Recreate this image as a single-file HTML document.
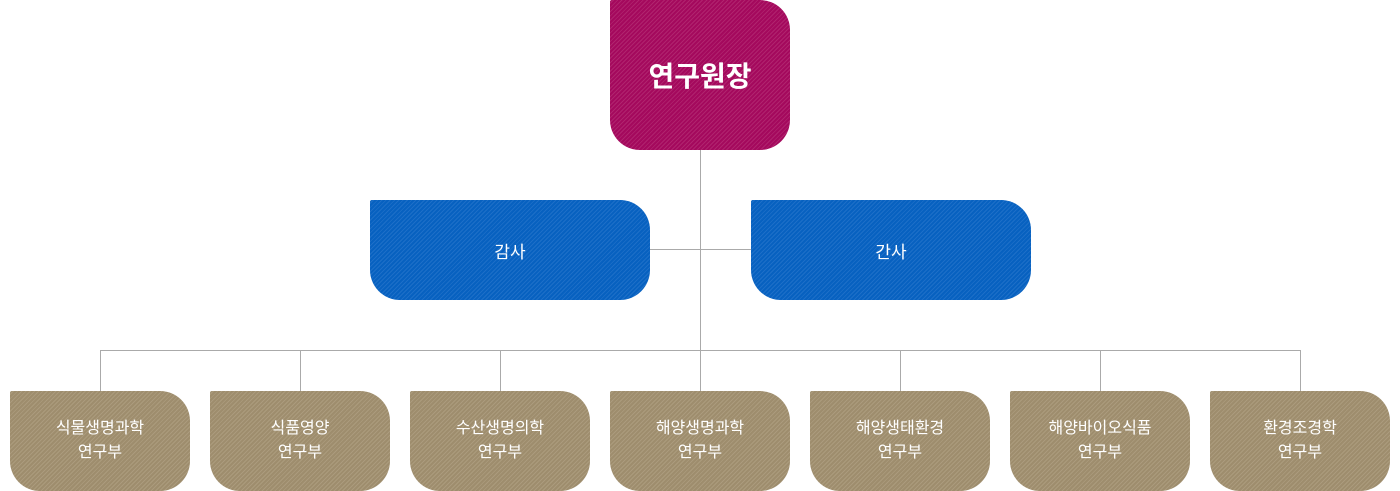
<!DOCTYPE html>
<html><head><meta charset="utf-8"><style>
body{margin:0;width:1400px;height:491px;background:#fff;position:relative;overflow:hidden;font-family:"Liberation Sans","Noto Sans CJK KR","NanumGothic",sans-serif}
.b{position:absolute;color:#fff;display:flex;align-items:center;justify-content:center;text-align:center;border-radius:2px 30px 30px 30px}
.top{left:610px;top:0;width:180px;height:150px;font-size:28px;font-weight:bold;background:repeating-linear-gradient(135deg,#a4095d 0 2px,#b0246e 2px 3px)}
.blue{top:200px;width:280px;height:100px;font-size:17px;background:repeating-linear-gradient(135deg,#0761c0 0 2px,#1d6fc8 2px 3px)}
.tan{top:391px;width:180px;height:100px;font-size:16px;line-height:24px;background:repeating-linear-gradient(135deg,#9e8d6d 0 2px,#ab9b7d 2px 3px)}
.l{position:absolute;background:#aaa}
</style></head><body>
<div class="l" style="left:700px;top:150px;width:1px;height:241px"></div>
<div class="l" style="left:650px;top:249px;width:101px;height:1px"></div>
<div class="l" style="left:100px;top:350px;width:1201px;height:1px"></div>
<div class="l" style="left:100px;top:350px;width:1px;height:41px"></div>
<div class="l" style="left:300px;top:350px;width:1px;height:41px"></div>
<div class="l" style="left:500px;top:350px;width:1px;height:41px"></div>
<div class="l" style="left:900px;top:350px;width:1px;height:41px"></div>
<div class="l" style="left:1100px;top:350px;width:1px;height:41px"></div>
<div class="l" style="left:1300px;top:350px;width:1px;height:41px"></div>
<div class="b top">연구원장</div>
<div class="b blue" style="left:370px">감사</div>
<div class="b blue" style="left:751px">간사</div>
<div class="b tan" style="left:10px">식물생명과학<br>연구부</div>
<div class="b tan" style="left:210px">식품영양<br>연구부</div>
<div class="b tan" style="left:410px">수산생명의학<br>연구부</div>
<div class="b tan" style="left:610px">해양생명과학<br>연구부</div>
<div class="b tan" style="left:810px">해양생태환경<br>연구부</div>
<div class="b tan" style="left:1010px">해양바이오식품<br>연구부</div>
<div class="b tan" style="left:1210px">환경조경학<br>연구부</div>
</body></html>
